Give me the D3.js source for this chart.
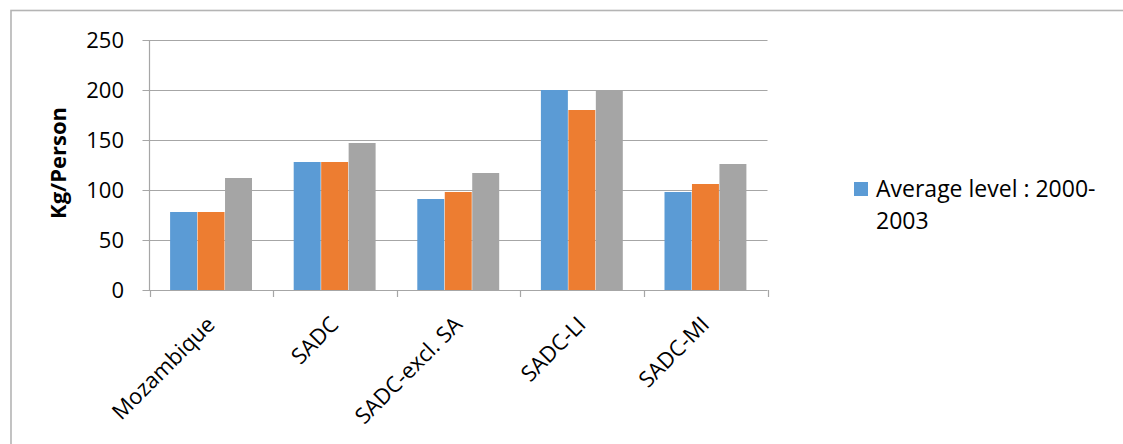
<!DOCTYPE html>
<html><head><meta charset="utf-8">
<script src="https://cdn.jsdelivr.net/npm/d3@7"></script>
<style>body{margin:0;background:#fff}svg{display:block}text{font-family:"Open Sans",sans-serif;fill:#000}</style>
</head><body><svg id="c" width="1123" height="444"></svg>
<script>
const categories = ["Mozambique","SADC","SADC-excl. SA","SADC-LI","SADC-MI"];
const seriesNames = ["Average level : 2000-2003","Series 2","Series 3"];
const series1 = [78, 128, 91, 200, 98];
const series2 = [78, 128, 98, 180, 106];
const series3 = [112, 147, 117, 200, 126];
const yTicks = [0,50,100,150,200,250];
const colors = ["#5B9BD5","#ED7D31","#A5A5A5"];

const svg = d3.select("#c");
// chart border (cropped on right/bottom)
svg.append("rect").attr("x",11).attr("y",10.5).attr("width",1300).attr("height",600)
  .attr("fill","none").attr("stroke","#b4b4b4").attr("stroke-width",1.6);

const pL=149.5, pR=767.5, pT=40, pB=290;
const y = d3.scaleLinear().domain([0,250]).range([pB,pT]);
const x0 = d3.scaleBand().domain(categories).range([pL,pR]).paddingInner(0).paddingOuter(0);
const gw = x0.bandwidth()*3/4.5;
const x1 = d3.scaleBand().domain([0,1,2]).range([0,gw]);

// gridlines
svg.append("g").selectAll("line").data(yTicks).join("line")
  .attr("x1",pL-7).attr("x2",pR).attr("y1",d=>Math.round(y(d))+0.5).attr("y2",d=>Math.round(y(d))+0.5)
  .attr("stroke","#a6a6a6").attr("stroke-width",1.2);

// bars
const data = categories.map((c,i)=>({c, v:[series1[i],series2[i],series3[i]]}));
const g = svg.append("g").selectAll("g").data(data).join("g")
  .attr("transform",d=>`translate(${x0(d.c)+(x0.bandwidth()-gw)/2},0)`);
g.selectAll("rect").data(d=>d.v.map((v,k)=>({v,k}))).join("rect")
  .attr("x",d=>x1(d.k)).attr("width",x1.bandwidth()-0.5)
  .attr("y",d=>y(d.v)).attr("height",d=>y(0)-y(d.v))
  .attr("fill",d=>colors[d.k]);

// y axis line
svg.append("line").attr("x1",pL).attr("x2",pL).attr("y1",pT).attr("y2",pB)
  .attr("stroke","#a6a6a6").attr("stroke-width",1.2);
// x axis ticks
const xt = categories.map(c=>x0(c)).concat([pR]);
svg.append("g").selectAll("line").data(xt).join("line")
  .attr("x1",d=>Math.round(d)+0.5).attr("x2",d=>Math.round(d)+0.5).attr("y1",pB).attr("y2",pB+7)
  .attr("stroke","#a6a6a6").attr("stroke-width",1.2);

// y tick labels
svg.append("g").selectAll("text").data(yTicks).join("text")
  .attr("x",124).attr("y",d=>y(d)).attr("dy","0.36em").attr("text-anchor","end")
  .style("font-size","22px").text(d=>d);

// x labels
svg.append("g").selectAll("text").data(categories).join("text")
  .attr("transform",d=>`translate(${x0(d)+x0.bandwidth()/2+5},${pB+36}) rotate(-45)`)
  .attr("text-anchor","end").style("font-size","22px").text(d=>d);

// y title
svg.append("text").attr("transform",`translate(66,${(pT+pB)/2-2}) rotate(-90)`)
  .attr("text-anchor","middle").style("font-size","22px").style("font-weight","bold").text("Kg/Person");

// legend (first series only)
svg.append("rect").attr("x",854).attr("y",182).attr("width",14).attr("height",14).attr("fill",colors[0]);
const lt = svg.append("text").attr("x",876).attr("y",197).style("font-size","23px");
const parts = seriesNames[0].split(/(?<=-)/);
lt.selectAll("tspan").data(parts).join("tspan").attr("x",876).attr("dy",(d,i)=>i?32:0).text(d=>d);
</script></body></html>
